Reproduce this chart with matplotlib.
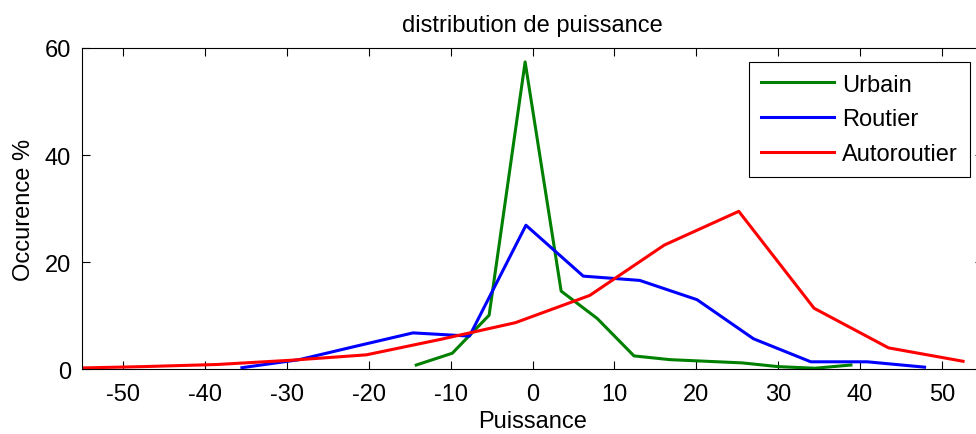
import matplotlib
matplotlib.use("Agg")
import matplotlib.pyplot as plt

plt.rcParams['font.family'] = ['Liberation Sans', 'DejaVu Sans']
plt.rcParams['axes.unicode_minus'] = False

# Urbain
x_urbain = [-14.2, -9.8, -5.3, -0.9, 3.5, 7.9, 12.4, 16.8, 21.2, 25.6, 30.0, 34.5, 38.9]
y_urbain = [0.8, 3.0, 10.1, 57.4, 14.6, 9.5, 2.5, 1.8, 1.5, 1.2, 0.5, 0.2, 0.8]

# Routier
x_routier = [-35.5, -28.5, -21.6, -14.6, -7.7, -0.8, 6.2, 13.1, 20.1, 27.0, 34.0, 40.9, 47.9]
y_routier = [0.3, 1.8, 4.3, 6.8, 6.2, 26.9, 17.4, 16.6, 13.0, 5.7, 1.4, 1.4, 0.4]

# Autoroutier
x_auto = [-56.7, -47.6, -38.5, -29.4, -20.3, -11.2, -2.1, 7.0, 16.1, 25.2, 34.4, 43.5, 52.6]
y_auto = [0.2, 0.5, 0.9, 1.7, 2.7, 5.6, 8.7, 13.8, 23.2, 29.5, 11.4, 4.0, 1.5]

xticks = list(range(-50, 51, 10))
yticks = [0, 20, 40, 60]
labels = ['Urbain', 'Routier', 'Autoroutier']

fig = plt.figure(figsize=(9.76, 4.35), dpi=100)
W, H = 976, 435
ax = fig.add_axes([82.3 / W, (H - 370.3) / H, (982.7 - 82.3) / W, (370.3 - 49) / H])

ax.plot(x_urbain, y_urbain, color='#008000', lw=2.2, label=labels[0])
ax.plot(x_routier, y_routier, color='#0000ff', lw=2.2, label=labels[1])
ax.plot(x_auto, y_auto, color='#ff0000', lw=2.2, label=labels[2])

ax.set_xlim(-55, 55)
ax.set_ylim(0, 60)
ax.set_xticks(xticks)
ax.set_yticks(yticks)
ax.tick_params(direction='in', length=6, width=0.8, top=True, right=True,
               labelsize=17)
ax.tick_params(axis='x', pad=10)
ax.tick_params(axis='y', pad=8)
for s in ax.spines.values():
    s.set_linewidth(0.8)

ax.set_title('distribution de puissance', fontsize=17, pad=12)
ax.set_xlabel('Puissance', fontsize=17)
ax.set_ylabel('Occurence %', fontsize=17)
ax.xaxis.set_label_coords(0.5, -0.128)
ax.yaxis.set_label_coords(-0.053, 0.5)

leg = ax.legend(loc='upper left', bbox_to_anchor=(749.3 / W, 1 - 62.7 / H),
                bbox_transform=fig.transFigure, borderaxespad=0, fontsize=17,
                fancybox=False, framealpha=1, edgecolor='black',
                handlelength=3.08, handletextpad=0.35, labelspacing=0.55,
                borderpad=0.5)
leg.get_frame().set_linewidth(0.8)

fig.savefig('out.png', dpi=100)
